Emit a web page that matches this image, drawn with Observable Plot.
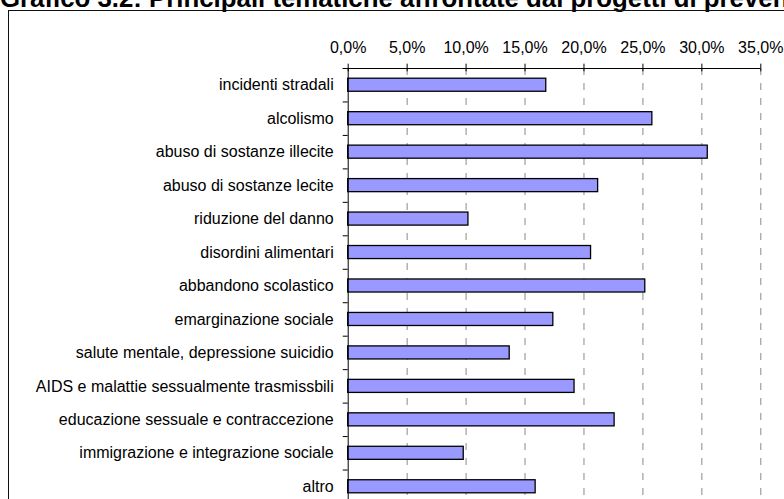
<!DOCTYPE html>
<html>
<head>
<meta charset="utf-8">
<script src="https://cdn.jsdelivr.net/npm/d3@7"></script>
<script src="https://cdn.jsdelivr.net/npm/@observablehq/plot@0.6"></script>
<style>
  html, body { margin:0; padding:0; background:#fff; overflow:hidden; width:784px; height:499px; }
  #title { position:absolute; left:0px; top:-15px; font-family:"Liberation Sans", Arial, sans-serif; font-weight:bold; font-size:25.8px; line-height:26px; white-space:nowrap; color:#000; }
  #box { position:absolute; left:8px; top:10px; width:900px; height:600px; border-left:1.5px solid #111; border-top:1.5px solid #111; }
  #chart { position:absolute; left:0; top:0; }
</style>
</head>
<body>
<div id="title">Grafico 3.2: Principali tematiche affrontate dai progetti di prevenzione</div>
<div id="box"></div>
<div id="chart"></div>
<script>
const categories = [
  "incidenti stradali",
  "alcolismo",
  "abuso di sostanze illecite",
  "abuso di sostanze lecite",
  "riduzione del danno",
  "disordini alimentari",
  "abbandono scolastico",
  "emarginazione sociale",
  "salute mentale, depressione suicidio",
  "AIDS e malattie sessualmente trasmissbili",
  "educazione sessuale e contraccezione",
  "immigrazione e integrazione sociale",
  "altro"
];
const values = [16.8, 25.8, 30.5, 21.2, 10.2, 20.6, 25.2, 17.4, 13.7, 19.2, 22.6, 9.8, 15.9];
const xTicks = [0, 5, 10, 15, 20, 25, 30, 35];

const fmt = v => v.toFixed(1).replace(".", ",") + "%";
const data = categories.map((c, i) => ({category: c, i, value: values[i]}));
const n = categories.length;
const boundaries = d3.range(0, n + 1);
const centers = d3.range(n).map(i => i + 0.5);
const half = 0.195;

const chart = Plot.plot({
  width: 784,
  height: 503,
  marginLeft: 347.7,
  marginRight: 23.7,
  marginTop: 68,
  marginBottom: 0,
  x: {domain: [0, 35]},
  y: {domain: [0, n], reverse: true},
  style: {fontFamily: "'Liberation Sans', Arial, sans-serif", fontSize: "16px", background: "transparent", overflow: "visible", color: "#000"},
  marks: [
    Plot.ruleX(xTicks.slice(1), {y1: 0, y2: n, stroke: "#8a8a8a", strokeWidth: 1, strokeDasharray: "7,8"}),
    Plot.rectX(data, {y1: d => d.i + 0.5 - half, y2: d => d.i + 0.5 + half, x1: 0, x2: "value", fill: "#9999ff", stroke: "#000", strokeWidth: 1.3}),
    Plot.ruleX([0], {y1: 0, y2: n, stroke: "#000"}),
    Plot.ruleY([0], {x1: -0.42, x2: 35, stroke: "#000"}),
    Plot.ruleY(boundaries, {x1: -0.42, x2: 0, stroke: "#000"}),
    Plot.ruleX(xTicks, {y1: -0.13, y2: 0.1, stroke: "#000"}),
    Plot.axisY(centers, {tickSize: 0, tickPadding: 14.5, tickFormat: (d, i) => categories[i], fill: "#000", label: null}),
    Plot.axisX(xTicks, {anchor: "top", tickSize: 0, tickPadding: 16, tickFormat: fmt, fill: "#000", label: null})
  ]
});
document.getElementById("chart").appendChild(chart);
</script>
</body>
</html>
